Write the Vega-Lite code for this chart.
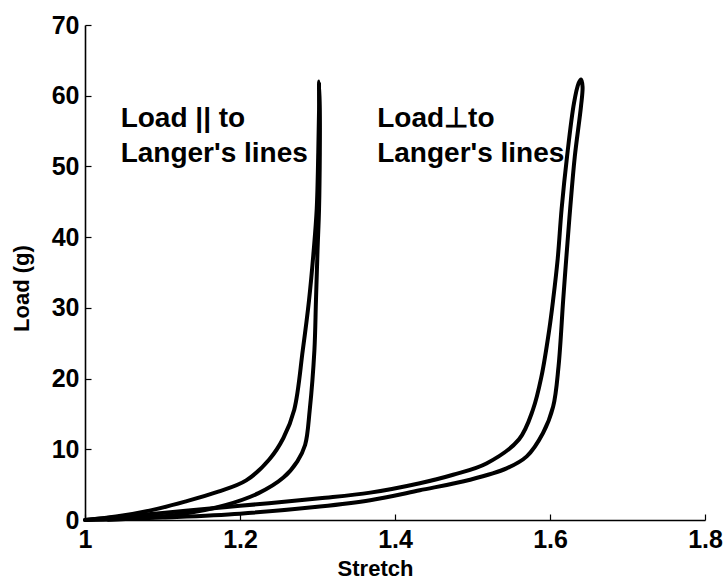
{
  "$schema": "https://vega.github.io/schema/vega-lite/v6.json",
  "width": 620,
  "height": 495,
  "autosize": {"type": "none"},
  "padding": {"left": 85, "top": 25, "right": 22, "bottom": 61},
  "background": "white",
  "config": {
    "view": {"stroke": null},
    "axis": {
      "grid": false,
      "domainColor": "black",
      "domainWidth": 1.6,
      "tickColor": "black",
      "tickWidth": 1.2,
      "labelColor": "black",
      "labelFont": "Liberation Sans",
      "labelFontWeight": "bold",
      "labelFontSize": 25,
      "titleColor": "black",
      "titleFont": "Liberation Sans",
      "titleFontWeight": "bold",
      "titleFontSize": 22
    }
  },
  "datasets": {
    "curves": [
      {"loop": "parallel", "seq": 0, "stretch": 1.000, "load": 0},
      {"loop": "parallel", "seq": 1, "stretch": 1.040, "load": 0.5},
      {"loop": "parallel", "seq": 2, "stretch": 1.086, "load": 1.4},
      {"loop": "parallel", "seq": 3, "stretch": 1.129, "load": 2.6},
      {"loop": "parallel", "seq": 4, "stretch": 1.172, "load": 4.0},
      {"loop": "parallel", "seq": 5, "stretch": 1.208, "load": 5.6},
      {"loop": "parallel", "seq": 6, "stretch": 1.238, "load": 8.6},
      {"loop": "parallel", "seq": 7, "stretch": 1.256, "load": 11.6},
      {"loop": "parallel", "seq": 8, "stretch": 1.270, "load": 15.6},
      {"loop": "parallel", "seq": 9, "stretch": 1.281, "load": 24},
      {"loop": "parallel", "seq": 10, "stretch": 1.289, "load": 31},
      {"loop": "parallel", "seq": 11, "stretch": 1.295, "load": 38},
      {"loop": "parallel", "seq": 12, "stretch": 1.299, "load": 44},
      {"loop": "parallel", "seq": 13, "stretch": 1.301, "load": 52},
      {"loop": "parallel", "seq": 14, "stretch": 1.302, "load": 58},
      {"loop": "parallel", "seq": 15, "stretch": 1.302, "load": 62},
      {"loop": "parallel", "seq": 16, "stretch": 1.303, "load": 58},
      {"loop": "parallel", "seq": 17, "stretch": 1.303, "load": 52},
      {"loop": "parallel", "seq": 18, "stretch": 1.302, "load": 44},
      {"loop": "parallel", "seq": 19, "stretch": 1.300, "load": 38},
      {"loop": "parallel", "seq": 20, "stretch": 1.298, "load": 31},
      {"loop": "parallel", "seq": 21, "stretch": 1.296, "load": 24},
      {"loop": "parallel", "seq": 22, "stretch": 1.290, "load": 15.6},
      {"loop": "parallel", "seq": 23, "stretch": 1.284, "load": 10.6},
      {"loop": "parallel", "seq": 24, "stretch": 1.274, "load": 8.3},
      {"loop": "parallel", "seq": 25, "stretch": 1.256, "load": 6.0},
      {"loop": "parallel", "seq": 26, "stretch": 1.224, "load": 3.8},
      {"loop": "parallel", "seq": 27, "stretch": 1.181, "load": 2.1},
      {"loop": "parallel", "seq": 28, "stretch": 1.129, "load": 0.9},
      {"loop": "parallel", "seq": 29, "stretch": 1.086, "load": 0.4},
      {"loop": "parallel", "seq": 30, "stretch": 1.040, "load": 0.1},
      {"loop": "parallel", "seq": 31, "stretch": 1.000, "load": 0},

      {"loop": "perpendicular", "seq": 0, "stretch": 1.000, "load": 0},
      {"loop": "perpendicular", "seq": 1, "stretch": 1.100, "load": 1.0},
      {"loop": "perpendicular", "seq": 2, "stretch": 1.200, "load": 2.0},
      {"loop": "perpendicular", "seq": 3, "stretch": 1.303, "load": 3.07},
      {"loop": "perpendicular", "seq": 4, "stretch": 1.368, "load": 3.87},
      {"loop": "perpendicular", "seq": 5, "stretch": 1.432, "load": 5.2},
      {"loop": "perpendicular", "seq": 6, "stretch": 1.475, "load": 6.4},
      {"loop": "perpendicular", "seq": 7, "stretch": 1.518, "load": 8.0},
      {"loop": "perpendicular", "seq": 8, "stretch": 1.560, "load": 11.4},
      {"loop": "perpendicular", "seq": 9, "stretch": 1.578, "load": 15.6},
      {"loop": "perpendicular", "seq": 10, "stretch": 1.589, "load": 20.3},
      {"loop": "perpendicular", "seq": 11, "stretch": 1.599, "load": 26.9},
      {"loop": "perpendicular", "seq": 12, "stretch": 1.604, "load": 31.1},
      {"loop": "perpendicular", "seq": 13, "stretch": 1.610, "load": 37},
      {"loop": "perpendicular", "seq": 14, "stretch": 1.615, "load": 44},
      {"loop": "perpendicular", "seq": 15, "stretch": 1.622, "load": 51.4},
      {"loop": "perpendicular", "seq": 16, "stretch": 1.631, "load": 59.0},
      {"loop": "perpendicular", "seq": 17, "stretch": 1.637, "load": 61.8},
      {"loop": "perpendicular", "seq": 18, "stretch": 1.640, "load": 62.3},
      {"loop": "perpendicular", "seq": 19, "stretch": 1.642, "load": 61.3},
      {"loop": "perpendicular", "seq": 20, "stretch": 1.640, "load": 58.5},
      {"loop": "perpendicular", "seq": 21, "stretch": 1.632, "load": 51.4},
      {"loop": "perpendicular", "seq": 22, "stretch": 1.626, "load": 44},
      {"loop": "perpendicular", "seq": 23, "stretch": 1.621, "load": 37},
      {"loop": "perpendicular", "seq": 24, "stretch": 1.617, "load": 31.1},
      {"loop": "perpendicular", "seq": 25, "stretch": 1.611, "load": 21.7},
      {"loop": "perpendicular", "seq": 26, "stretch": 1.604, "load": 16.0},
      {"loop": "perpendicular", "seq": 27, "stretch": 1.591, "load": 12.3},
      {"loop": "perpendicular", "seq": 28, "stretch": 1.570, "load": 9.0},
      {"loop": "perpendicular", "seq": 29, "stretch": 1.544, "load": 7.3},
      {"loop": "perpendicular", "seq": 30, "stretch": 1.497, "load": 5.7},
      {"loop": "perpendicular", "seq": 31, "stretch": 1.432, "load": 4.2},
      {"loop": "perpendicular", "seq": 32, "stretch": 1.368, "load": 2.8},
      {"loop": "perpendicular", "seq": 33, "stretch": 1.303, "load": 1.9},
      {"loop": "perpendicular", "seq": 34, "stretch": 1.200, "load": 0.9},
      {"loop": "perpendicular", "seq": 35, "stretch": 1.100, "load": 0.35},
      {"loop": "perpendicular", "seq": 36, "stretch": 1.030, "load": 0.05}
    ],
    "notes": [
      {"text": "Load || to", "stretch": 1.046, "load": 55.6},
      {"text": "Langer's lines", "stretch": 1.046, "load": 50.6},
      {"text": "Load⊥to", "stretch": 1.377, "load": 55.6},
      {"text": "Langer's lines", "stretch": 1.377, "load": 50.6}
    ]
  },
  "layer": [
    {
      "data": {"name": "curves"},
      "mark": {"type": "line", "color": "black", "strokeWidth": 4, "strokeJoin": "round", "strokeCap": "round", "interpolate": "catmull-rom"},
      "encoding": {
        "x": {
          "field": "stretch",
          "type": "quantitative",
          "scale": {"domain": [1, 1.8], "nice": false, "zero": false},
          "axis": {
            "title": "Stretch",
            "values": [1, 1.2, 1.4, 1.6, 1.8],
            "format": "~g",
            "tickSize": -6,
            "labelPadding": 13,
            "labelFlush": false,
            "labelOverlap": false,
            "titleX": 290,
            "titleY": 48,
            "titleBaseline": "middle"
          }
        },
        "y": {
          "field": "load",
          "type": "quantitative",
          "scale": {"domain": [0, 70], "nice": false},
          "axis": {
            "title": "Load (g)",
            "values": [0, 10, 20, 30, 40, 50, 60, 70],
            "tickSize": -6,
            "labelPadding": 12,
            "labelOverlap": false,
            "titleX": -64,
            "titleY": 263,
            "titleBaseline": "middle"
          }
        },
        "detail": {"field": "loop"},
        "order": {"field": "seq", "type": "quantitative"}
      }
    },
    {
      "data": {"name": "notes"},
      "mark": {"type": "text", "align": "left", "baseline": "alphabetic", "font": "Liberation Sans", "fontWeight": "bold", "fontSize": 28, "color": "black"},
      "encoding": {
        "x": {"field": "stretch", "type": "quantitative"},
        "y": {"field": "load", "type": "quantitative"},
        "text": {"field": "text"}
      }
    }
  ]
}
